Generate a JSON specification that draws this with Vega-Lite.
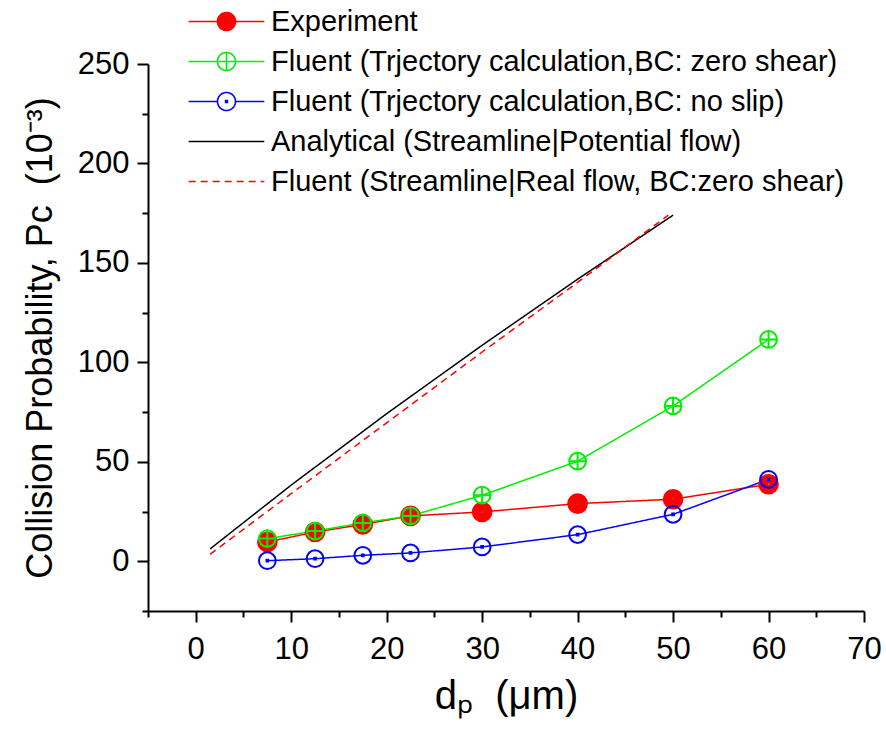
{
  "$schema": "https://vega.github.io/schema/vega-lite/v6.json",
  "width": 716,
  "height": 547,
  "autosize": "none",
  "padding": {"left": 148, "top": 64, "right": 22, "bottom": 127},
  "background": "white",
  "config": {
    "font": "Liberation Sans",
    "view": {"stroke": null},
    "axis": {
      "domainColor": "black",
      "domainWidth": 2,
      "tickColor": "black",
      "tickWidth": 2,
      "grid": false,
      "labelFont": "Liberation Sans",
      "labelFontSize": 31,
      "labelColor": "black",
      "titleFont": "Liberation Sans",
      "titleFontWeight": "normal",
      "titleColor": "black"
    }
  },
  "datasets": {
    "pc": [
      {"series": "Experiment", "d": 7.5, "p": 9.7},
      {"series": "Experiment", "d": 12.5, "p": 14.7},
      {"series": "Experiment", "d": 17.5, "p": 18.5},
      {"series": "Experiment", "d": 22.5, "p": 22.8},
      {"series": "Experiment", "d": 30, "p": 24.8},
      {"series": "Experiment", "d": 40, "p": 29.0},
      {"series": "Experiment", "d": 50, "p": 31.2},
      {"series": "Experiment", "d": 60, "p": 38.7},
      {"series": "Fluent (Trjectory calculation,BC: zero shear)", "d": 7.5, "p": 11.4},
      {"series": "Fluent (Trjectory calculation,BC: zero shear)", "d": 12.5, "p": 15.2},
      {"series": "Fluent (Trjectory calculation,BC: zero shear)", "d": 17.5, "p": 19.3},
      {"series": "Fluent (Trjectory calculation,BC: zero shear)", "d": 22.5, "p": 22.8},
      {"series": "Fluent (Trjectory calculation,BC: zero shear)", "d": 30, "p": 33.2},
      {"series": "Fluent (Trjectory calculation,BC: zero shear)", "d": 40, "p": 50.3},
      {"series": "Fluent (Trjectory calculation,BC: zero shear)", "d": 50, "p": 78.1},
      {"series": "Fluent (Trjectory calculation,BC: zero shear)", "d": 60, "p": 111.5},
      {"series": "Fluent (Trjectory calculation,BC: no slip)", "d": 7.5, "p": 0.3},
      {"series": "Fluent (Trjectory calculation,BC: no slip)", "d": 12.5, "p": 1.3},
      {"series": "Fluent (Trjectory calculation,BC: no slip)", "d": 17.5, "p": 3.0},
      {"series": "Fluent (Trjectory calculation,BC: no slip)", "d": 22.5, "p": 4.2},
      {"series": "Fluent (Trjectory calculation,BC: no slip)", "d": 30, "p": 7.2},
      {"series": "Fluent (Trjectory calculation,BC: no slip)", "d": 40, "p": 13.4},
      {"series": "Fluent (Trjectory calculation,BC: no slip)", "d": 50, "p": 23.6},
      {"series": "Fluent (Trjectory calculation,BC: no slip)", "d": 60, "p": 41.2},
      {"series": "Analytical (Streamline|Potential flow)", "d": 1.5, "p": 6.2},
      {"series": "Analytical (Streamline|Potential flow)", "d": 10, "p": 38.3},
      {"series": "Analytical (Streamline|Potential flow)", "d": 20, "p": 74.2},
      {"series": "Analytical (Streamline|Potential flow)", "d": 30, "p": 108.6},
      {"series": "Analytical (Streamline|Potential flow)", "d": 40, "p": 141.8},
      {"series": "Analytical (Streamline|Potential flow)", "d": 50, "p": 174},
      {"series": "Fluent (Streamline|Real flow, BC:zero shear)", "d": 1.5, "p": 3.5},
      {"series": "Fluent (Streamline|Real flow, BC:zero shear)", "d": 10, "p": 34},
      {"series": "Fluent (Streamline|Real flow, BC:zero shear)", "d": 20, "p": 69.6},
      {"series": "Fluent (Streamline|Real flow, BC:zero shear)", "d": 30, "p": 105.2},
      {"series": "Fluent (Streamline|Real flow, BC:zero shear)", "d": 40, "p": 140.2},
      {"series": "Fluent (Streamline|Real flow, BC:zero shear)", "d": 49.5, "p": 174}
    ]
  },
  "data": {"name": "pc"},
  "encoding": {
    "x": {
      "field": "d",
      "type": "quantitative",
      "scale": {"domain": [-5, 70], "nice": false, "zero": false},
      "axis": {
        "title": "dₚ\u00a0\u00a0(μm)",
        "titleFontSize": 40,
        "titlePadding": 12,
        "values": [-5, 0, 5, 10, 15, 20, 25, 30, 35, 40, 45, 50, 55, 60, 65, 70],
        "labelExpr": "datum.value % 10 === 0 ? datum.label : ''",
        "tickSize": {"condition": {"test": "datum.value % 10 === 0", "value": 11}, "value": 6},
        "labelPadding": 12,
        "labelFlush": false,
        "labelOverlap": false
      }
    },
    "y": {
      "field": "p",
      "type": "quantitative",
      "scale": {"domain": [-25, 250], "nice": false, "zero": false},
      "axis": {
        "title": "Collision Probability, Pᴄ\u00a0\u00a0(10⁻³)",
        "titleFontSize": 36,
        "titlePadding": 18,
        "values": [-25, 0, 25, 50, 75, 100, 125, 150, 175, 200, 225, 250],
        "labelExpr": "datum.value % 50 === 0 ? datum.label : ''",
        "tickSize": {"condition": {"test": "datum.value % 50 === 0", "value": 11}, "value": 6},
        "labelPadding": 8,
        "labelFlush": false,
        "labelOverlap": false
      }
    },
    "color": {
      "field": "series",
      "type": "nominal",
      "scale": {
        "domain": [
          "Experiment",
          "Fluent (Trjectory calculation,BC: zero shear)",
          "Fluent (Trjectory calculation,BC: no slip)",
          "Analytical (Streamline|Potential flow)",
          "Fluent (Streamline|Real flow, BC:zero shear)"
        ],
        "range": ["#ff0000", "#00ee00", "#0000ff", "#000000", "#ff0000"]
      },
      "legend": {
        "title": null,
        "orient": "none",
        "legendX": 64,
        "legendY": -57,
        "padding": 0,
        "labelFont": "Liberation Sans",
        "labelFontSize": 29,
        "labelColor": "black",
        "labelLimit": 800,
        "labelOffset": 30,
        "symbolSize": 324,
        "rowPadding": 10,
        "symbolStrokeWidth": 1.6,
        "symbolFillColor": "transparent"
      }
    }
  },
  "layer": [
    {
      "transform": [{"filter": "false"}],
      "mark": {"type": "point", "filled": false, "size": 324, "strokeWidth": 1.6, "opacity": 1},
      "encoding": {
        "shape": {
          "field": "series",
          "type": "nominal",
          "scale": {
            "domain": [
              "Experiment",
              "Fluent (Trjectory calculation,BC: zero shear)",
              "Fluent (Trjectory calculation,BC: no slip)",
              "Analytical (Streamline|Potential flow)",
              "Fluent (Streamline|Real flow, BC:zero shear)"
            ],
            "range": [
              "M-4.2,0L-1,0M1,0L4.2,0M-1,0A1,1,0,1,0,1,0A1,1,0,1,0,-1,0ZM-0.9,0A0.9,0.9,0,1,0,0.9,0A0.9,0.9,0,1,0,-0.9,0ZM-0.8,0A0.8,0.8,0,1,0,0.8,0A0.8,0.8,0,1,0,-0.8,0ZM-0.7,0A0.7,0.7,0,1,0,0.7,0A0.7,0.7,0,1,0,-0.7,0ZM-0.6,0A0.6,0.6,0,1,0,0.6,0A0.6,0.6,0,1,0,-0.6,0ZM-0.5,0A0.5,0.5,0,1,0,0.5,0A0.5,0.5,0,1,0,-0.5,0ZM-0.4,0A0.4,0.4,0,1,0,0.4,0A0.4,0.4,0,1,0,-0.4,0ZM-0.3,0A0.3,0.3,0,1,0,0.3,0A0.3,0.3,0,1,0,-0.3,0ZM-0.2,0A0.2,0.2,0,1,0,0.2,0A0.2,0.2,0,1,0,-0.2,0ZM-0.1,0A0.1,0.1,0,1,0,0.1,0A0.1,0.1,0,1,0,-0.1,0Z",
              "M-4.2,0L-1,0M1,0L4.2,0M-1,0A1,1,0,1,0,1,0A1,1,0,1,0,-1,0ZM-1,0L1,0M0,-1L0,1",
              "M-4.2,0L-1,0M1,0L4.2,0M-1,0A1,1,0,1,0,1,0A1,1,0,1,0,-1,0ZM-0.1,-0.1L0.1,-0.1L0.1,0.1L-0.1,0.1Z",
              "M-4.2,0L4.2,0",
              "M-4.2,0L4.2,0"
            ]
          }
        }
      }
    },
    {
      "mark": {"type": "line", "strokeWidth": 1.5},
      "encoding": {
        "strokeDash": {
          "field": "series",
          "type": "nominal",
          "scale": {
            "domain": [
              "Experiment",
              "Fluent (Trjectory calculation,BC: zero shear)",
              "Fluent (Trjectory calculation,BC: no slip)",
              "Analytical (Streamline|Potential flow)",
              "Fluent (Streamline|Real flow, BC:zero shear)"
            ],
            "range": [[1, 0], [1, 0], [1, 0], [1, 0], [7, 5]]
          }
        }
      }
    },
    {
      "transform": [{"filter": "datum.series === 'Experiment'"}],
      "mark": {
        "type": "point",
        "filled": false,
        "size": 340,
        "strokeWidth": 2.2,
        "opacity": 1,
        "shape": "M-1,0A1,1,0,1,0,1,0A1,1,0,1,0,-1,0ZM-0.8,0A0.8,0.8,0,1,0,0.8,0A0.8,0.8,0,1,0,-0.8,0ZM-0.6,0A0.6,0.6,0,1,0,0.6,0A0.6,0.6,0,1,0,-0.6,0ZM-0.4,0A0.4,0.4,0,1,0,0.4,0A0.4,0.4,0,1,0,-0.4,0ZM-0.2,0A0.2,0.2,0,1,0,0.2,0A0.2,0.2,0,1,0,-0.2,0Z"
      }
    },
    {
      "transform": [{"filter": "datum.series === 'Fluent (Trjectory calculation,BC: zero shear)'"}],
      "mark": {
        "type": "point",
        "filled": false,
        "size": 280,
        "strokeWidth": 2,
        "opacity": 1,
        "shape": "M-1,0A1,1,0,1,0,1,0A1,1,0,1,0,-1,0ZM-1,0L1,0M0,-1L0,1"
      }
    },
    {
      "transform": [{"filter": "datum.series === 'Fluent (Trjectory calculation,BC: no slip)'"}],
      "mark": {
        "type": "point",
        "filled": false,
        "size": 280,
        "strokeWidth": 2,
        "opacity": 1,
        "shape": "M-1,0A1,1,0,1,0,1,0A1,1,0,1,0,-1,0ZM-0.1,-0.1L0.1,-0.1L0.1,0.1L-0.1,0.1Z"
      }
    }
  ]
}
